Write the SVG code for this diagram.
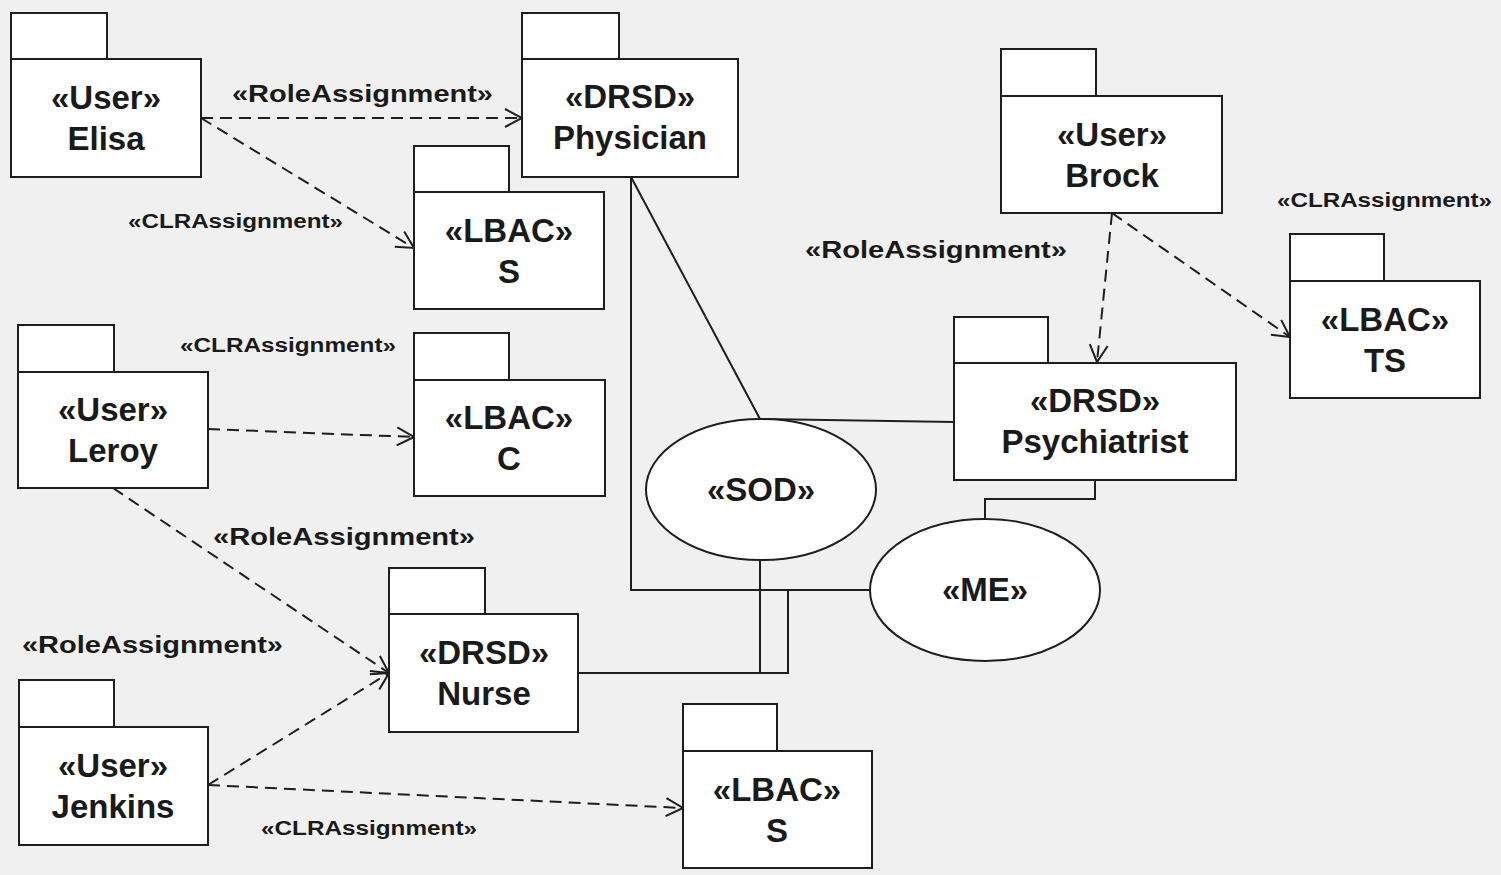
<svg xmlns="http://www.w3.org/2000/svg" width="1501" height="875" viewBox="0 0 1501 875">
  <defs>
    <style>
      .pkg rect{fill:#fff;stroke:#1e1e1e;stroke-width:2}
      .ell{fill:#fff;stroke:#1e1e1e;stroke-width:2}
      .nm{font-family:"Liberation Sans",Arial,sans-serif;font-weight:bold;font-size:33px;fill:#1a1a1a;text-anchor:middle}
      .lbl{font-family:"Liberation Sans",Arial,sans-serif;font-weight:bold;font-size:24px;fill:#1a1a1a}
      .lbl.s{font-size:20px}
      .dep{fill:none;stroke:#1e1e1e;stroke-width:2;stroke-dasharray:12 7;marker-end:url(#open)}
      .assoc{fill:none;stroke:#1e1e1e;stroke-width:2}
    </style>
    <marker id="open" markerUnits="userSpaceOnUse" markerWidth="20" markerHeight="20" refX="18" refY="10" orient="auto" viewBox="0 0 20 20">
      <path d="M1,1 L18,10 L1,19" fill="none" stroke="#1e1e1e" stroke-width="2"/>
    </marker>
  </defs>

  <rect x="0" y="0" width="1501" height="875" fill="#f0f0f0"/>

  <!-- connectors -->
  <g id="connectors">
    <!-- solid associations -->
    <path class="assoc" d="M631,177 L760,419"/>
    <path class="assoc" d="M631,177 V590 H870"/>
    <path class="assoc" d="M760,419 L954,422"/>
    <path class="assoc" d="M1095,480 V499 H985 V519"/>
    <path class="assoc" d="M578,673 H760 V560"/>
    <path class="assoc" d="M760,673 H788 V590"/>
    <!-- dependencies -->
    <path class="dep" d="M201,118 L522,118"/>
    <path class="dep" d="M201,118 L414,248"/>
    <path class="dep" d="M1112,213 L1097,362"/>
    <path class="dep" d="M1112,213 L1290,337"/>
    <path class="dep" d="M208,429 L414,437"/>
    <path class="dep" d="M113,488 L389,673"/>
    <path class="dep" d="M208,785 L389,673"/>
    <path class="dep" d="M208,785 L683,808"/>
    <!-- labels -->
    <text class="lbl" x="232" y="102" textLength="261" lengthAdjust="spacingAndGlyphs">«RoleAssignment»</text>
    <text class="lbl s" x="128" y="228" textLength="215" lengthAdjust="spacingAndGlyphs">«CLRAssignment»</text>
    <text class="lbl" x="805" y="258" textLength="262" lengthAdjust="spacingAndGlyphs">«RoleAssignment»</text>
    <text class="lbl s" x="1277" y="207" textLength="215" lengthAdjust="spacingAndGlyphs">«CLRAssignment»</text>
    <text class="lbl s" x="180" y="352" textLength="216" lengthAdjust="spacingAndGlyphs">«CLRAssignment»</text>
    <text class="lbl" x="213" y="545" textLength="262" lengthAdjust="spacingAndGlyphs">«RoleAssignment»</text>
    <text class="lbl" x="22" y="653" textLength="261" lengthAdjust="spacingAndGlyphs">«RoleAssignment»</text>
    <text class="lbl s" x="261" y="835" textLength="216" lengthAdjust="spacingAndGlyphs">«CLRAssignment»</text>
  </g>

  <!-- packages -->
  <g id="elisa" class="pkg">
    <rect x="11" y="13" width="96" height="46"/>
    <rect x="11" y="59" width="190" height="118"/>
    <text class="nm" x="106" y="109">«User»</text>
    <text class="nm" x="106" y="150">Elisa</text>
  </g>
  <g id="physician" class="pkg">
    <rect x="522" y="13" width="97" height="46"/>
    <rect x="522" y="59" width="216" height="118"/>
    <text class="nm" x="630" y="108">«DRSD»</text>
    <text class="nm" x="630" y="149">Physician</text>
  </g>
  <g id="lbac-s-top" class="pkg">
    <rect x="414" y="146" width="95" height="46"/>
    <rect x="414" y="192" width="190" height="117"/>
    <text class="nm" x="509" y="242">«LBAC»</text>
    <text class="nm" x="509" y="283">S</text>
  </g>
  <g id="brock" class="pkg">
    <rect x="1001" y="49" width="95" height="47"/>
    <rect x="1001" y="96" width="221" height="117"/>
    <text class="nm" x="1112" y="146">«User»</text>
    <text class="nm" x="1112" y="187">Brock</text>
  </g>
  <g id="lbac-ts" class="pkg">
    <rect x="1290" y="234" width="94" height="47"/>
    <rect x="1290" y="281" width="190" height="117"/>
    <text class="nm" x="1385" y="331">«LBAC»</text>
    <text class="nm" x="1385" y="372">TS</text>
  </g>
  <g id="psychiatrist" class="pkg">
    <rect x="954" y="317" width="94" height="46"/>
    <rect x="954" y="363" width="282" height="117"/>
    <text class="nm" x="1095" y="412">«DRSD»</text>
    <text class="nm" x="1095" y="453">Psychiatrist</text>
  </g>
  <g id="leroy" class="pkg">
    <rect x="18" y="325" width="96" height="47"/>
    <rect x="18" y="372" width="190" height="116"/>
    <text class="nm" x="113" y="421">«User»</text>
    <text class="nm" x="113" y="462">Leroy</text>
  </g>
  <g id="lbac-c" class="pkg">
    <rect x="414" y="333" width="95" height="47"/>
    <rect x="414" y="380" width="191" height="116"/>
    <text class="nm" x="509" y="429">«LBAC»</text>
    <text class="nm" x="509" y="470">C</text>
  </g>
  <g id="nurse" class="pkg">
    <rect x="389" y="568" width="96" height="46"/>
    <rect x="389" y="614" width="189" height="118"/>
    <text class="nm" x="484" y="664">«DRSD»</text>
    <text class="nm" x="484" y="705">Nurse</text>
  </g>
  <g id="jenkins" class="pkg">
    <rect x="19" y="680" width="95" height="47"/>
    <rect x="19" y="727" width="189" height="118"/>
    <text class="nm" x="113" y="777">«User»</text>
    <text class="nm" x="113" y="818">Jenkins</text>
  </g>
  <g id="lbac-s-bottom" class="pkg">
    <rect x="683" y="704" width="94" height="47"/>
    <rect x="683" y="751" width="189" height="117"/>
    <text class="nm" x="777" y="801">«LBAC»</text>
    <text class="nm" x="777" y="842">S</text>
  </g>

  <!-- constraints -->
  <g id="sod">
    <ellipse class="ell" cx="761" cy="489.5" rx="115" ry="70.5"/>
    <text class="nm" x="761" y="501">«SOD»</text>
  </g>
  <g id="me">
    <ellipse class="ell" cx="985" cy="590" rx="115" ry="71"/>
    <text class="nm" x="985" y="601">«ME»</text>
  </g>
</svg>
